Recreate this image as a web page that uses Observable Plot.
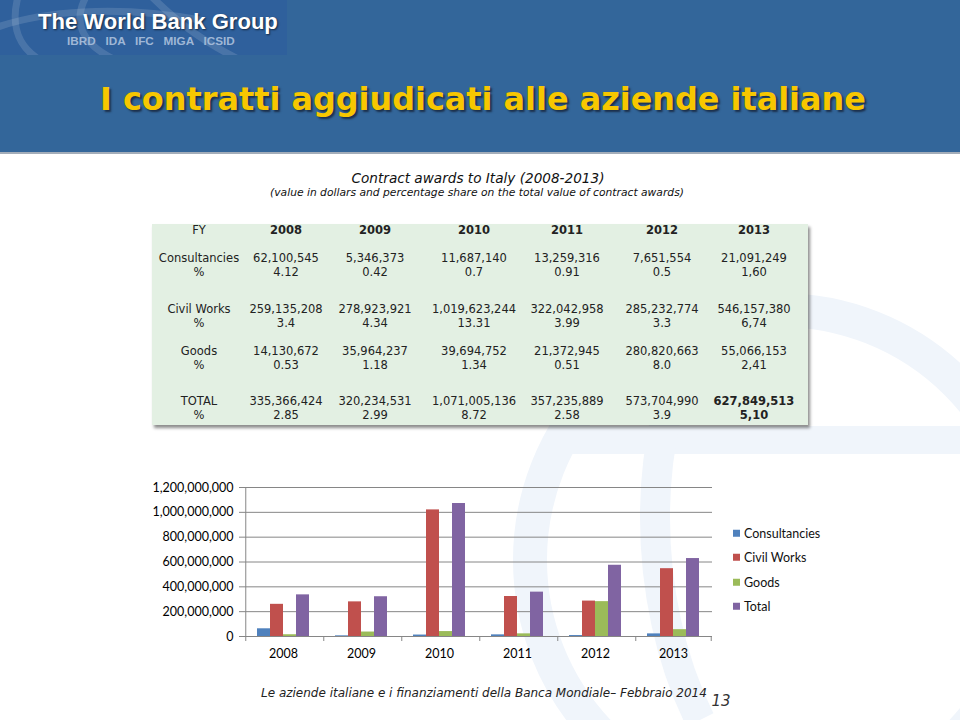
<!DOCTYPE html>
<html>
<head>
<meta charset="utf-8">
<script src="https://cdn.jsdelivr.net/npm/d3@7"></script>
<script src="https://cdn.jsdelivr.net/npm/@observablehq/plot@0.6"></script>
<style>
  html, body { margin: 0; padding: 0; }
  body { width: 960px; height: 720px; position: relative; overflow: hidden; background: #ffffff; font-family: "DejaVu Sans", Verdana, sans-serif; }
  .abs { position: absolute; white-space: pre; }
  #header { position: absolute; left: 0; top: 0; width: 960px; height: 152px; background: #33669a; }
  #hrule { position: absolute; left: 0; top: 152px; width: 960px; height: 2px; background: #a3adb9; }
  #logo { position: absolute; left: 0; top: 0; width: 287px; height: 55px; background: #2f609c; overflow: hidden; }
  #tablebox { position: absolute; left: 152px; top: 224px; width: 656px; height: 201px; background: #e3f0e3; box-shadow: 2px 3px 3px rgba(0,0,0,0.45); }
  .cell { position: absolute; white-space: nowrap; transform: translate(-50%, -50%); font-size: 11.5px; color: #222; line-height: 1; }
  #chart { position: absolute; left: 140px; top: 477px; }
  .leg { position: absolute; font-family: Lato, "Open Sans", sans-serif; font-size: 12.5px; color: #111; white-space: nowrap; transform: translateY(-50%); line-height: 1; }
  .sw { display: inline-block; width: 7px; height: 7px; margin-right: 4px; vertical-align: 1px; }
</style>
</head>
<body>
<svg class="abs" style="left:0;top:0" width="960" height="720">
  <g fill="none" stroke="#f0f5fb">
    <circle cx="780" cy="560" r="250" stroke-width="34"/>
    <path d="M560,440 L960,440" stroke-width="28"/>
    <path d="M700,330 C640,430 640,600 700,720" stroke-width="30"/>
  </g>
</svg>
<div id="header"></div>
<div id="hrule"></div>
<div id="logo">
  <svg width="287" height="55" style="position:absolute;left:0;top:0">
    <g fill="none" stroke="rgba(255,255,255,0.13)" stroke-width="7">
      <path d="M20,-10 C10,20 15,45 40,60"/>
      <path d="M90,-10 C70,20 80,45 120,62"/>
      <path d="M150,-5 C175,20 200,40 240,60"/>
      <path d="M-10,30 C40,10 120,5 200,20"/>
    </g>
  </svg>
</div>

<script>
// ---------------- data ----------------
const years = ["2008", "2009", "2010", "2011", "2012", "2013"];
const series = ["Consultancies", "Civil Works", "Goods", "Total"];

const consultancies    = [62100545, 5346373, 11687140, 13259316, 7651554, 21091249];
const consultanciesPct = ["4.12", "0.42", "0.7", "0.91", "0.5", "1,60"];
const civilWorks       = [259135208, 278923921, 1019623244, 322042958, 285232774, 546157380];
const civilWorksPct    = ["3.4", "4.34", "13.31", "3.99", "3.3", "6,74"];
const goods            = [14130672, 35964237, 39694752, 21372945, 280820663, 55066153];
const goodsPct         = ["0.53", "1.18", "1.34", "0.51", "8.0", "2,41"];
const total            = [335366424, 320234531, 1071005136, 357235889, 573704990, 627849513];
const totalPct         = ["2.85", "2.99", "8.72", "2.58", "3.9", "5,10"];

const yTicks = [0, 200000000, 400000000, 600000000, 800000000, 1000000000, 1200000000];

const slideTitle = "I contratti aggiudicati alle aziende italiane";
const tableTitle = "Contract awards to Italy (2008-2013)";
const tableSubtitle = "(value in dollars and percentage share on the total value of contract awards)";
const footerText = "Le aziende italiane e i finanziamenti della Banca Mondiale– Febbraio 2014";
const pageNumber = "13";

// ---------------- helpers ----------------
const body = document.body;
function textAt(str, opts) {
  const el = document.createElement("div");
  el.className = "abs";
  el.textContent = str;
  Object.assign(el.style, {
    fontFamily: opts.font || '"DejaVu Sans", Verdana, sans-serif',
    fontSize: (opts.size || 12) + "px",
    fontWeight: opts.weight || "normal",
    fontStyle: opts.style || "normal",
    color: opts.color || "#000",
    lineHeight: "1",
    textShadow: opts.shadow || "none"
  });
  body.appendChild(el);
  if (opts.fitWidth) {
    const w = el.getBoundingClientRect().width;
    el.style.fontSize = ((opts.size || 12) * opts.fitWidth / w) + "px";
  }
  const r = el.getBoundingClientRect();
  let left = opts.x;
  if (opts.anchor === "middle") left = opts.x - r.width / 2;
  if (opts.anchor === "end") left = opts.x - r.width;
  el.style.left = left + "px";
  el.style.top = (opts.y - r.height / 2) + "px";
  return el;
}

// ---------------- header ----------------
textAt("The World Bank Group", {x: 38, y: 22, size: 22, weight: "bold", font: '"Liberation Sans", Arial, sans-serif', color: "#ffffff", fitWidth: 240, shadow: "1px 1px 2px rgba(0,0,0,0.6)"});
textAt("IBRD   IDA   IFC   MIGA   ICSID", {x: 67, y: 41, size: 8.5, weight: "bold", font: '"Liberation Sans", Arial, sans-serif', color: "#9fb7d6", fitWidth: 168});
textAt(slideTitle, {x: 100, y: 100, size: 30, weight: "bold", color: "#f7c700", fitWidth: 766, shadow: "2px 2px 2px rgba(20,30,50,0.75)"});

// ---------------- table ----------------
textAt(tableTitle, {x: 478, y: 179, size: 13.6, style: "italic", color: "#111", fitWidth: 253, anchor: "middle"});
textAt(tableSubtitle, {x: 477, y: 193, size: 11, style: "italic", color: "#111", fitWidth: 414, anchor: "middle"});

const box = document.createElement("div");
box.id = "tablebox";
body.appendChild(box);

const fmt = d3.format(",");
const colX = [199, 286, 375, 474, 567, 662, 754];
const tableRows = [
  {label: "FY", values: years, y: 231, bold: true},
  {label: "Consultancies", values: consultancies.map(fmt), y: 259},
  {label: "%", values: consultanciesPct, y: 273},
  {label: "Civil Works", values: civilWorks.map(fmt), y: 310},
  {label: "%", values: civilWorksPct, y: 324},
  {label: "Goods", values: goods.map(fmt), y: 352},
  {label: "%", values: goodsPct, y: 366},
  {label: "TOTAL", values: total.map(fmt), y: 402, boldLast: true},
  {label: "%", values: totalPct, y: 416, boldLast: true}
];
for (const row of tableRows) {
  const cells = [row.label, ...row.values];
  cells.forEach((t, i) => {
    const c = document.createElement("div");
    c.className = "cell";
    c.textContent = t;
    c.style.left = colX[i] + "px";
    c.style.top = row.y + "px";
    if ((row.bold && i > 0) || (row.boldLast && i === cells.length - 1)) c.style.fontWeight = "bold";
    body.appendChild(c);
  });
}

// ---------------- chart ----------------
const valuesBySeries = [consultancies, civilWorks, goods, total];
const colors = ["#4f81bd", "#c0504d", "#9bbb59", "#8064a2"];
const rows = years.flatMap((yr, i) => series.map((s, j) => ({year: yr, series: s, value: valuesBySeries[j][i]})));

const W = 600, H = 189, ML = 102, MR = 27, MT = 10, MB = 30;
const facetW = (W - ML - MR) / years.length;
const padOuter = 0.8;
const step = facetW / (series.length + 2 * padOuter);
const edge = (0.5 + padOuter) * step;
const axisColor = "#868686";

const chart = Plot.plot({
  width: W,
  height: H,
  marginLeft: ML,
  marginRight: MR,
  marginTop: MT,
  marginBottom: MB,
  style: {fontFamily: 'Lato, "Open Sans", sans-serif', fontSize: "12.5px", color: "#000", background: "transparent", overflow: "visible"},
  fx: {domain: years, padding: 0, label: null},
  x: {domain: series, paddingInner: 0, paddingOuter: padOuter, axis: null},
  y: {domain: [0, 1200000000], label: null},
  color: {domain: series, range: colors},
  marks: [
    Plot.gridY(yTicks, {stroke: axisColor, strokeOpacity: 1}),
    Plot.barY(rows, {fx: "year", x: "series", y: "value", fill: "series"}),
    Plot.ruleY([0], {stroke: axisColor}),
    // left value axis line
    Plot.ruleX([years[0]], {fx: d => d, x: () => series[0], y1: 0, y2: 1200000000, dx: -edge, stroke: axisColor}),
    // category boundary tick marks
    Plot.ruleX(years, {fx: d => d, x: () => series[0], y1: 0, y2: 0, dx: -edge, insetTop: 5, stroke: axisColor}),
    Plot.ruleX([years[years.length - 1]], {fx: d => d, x: () => series[series.length - 1], y1: 0, y2: 0, dx: edge, insetTop: 5, stroke: axisColor}),
    Plot.axisY(yTicks, {tickSize: 5, tickPadding: 6, tickFormat: d3.format(","), stroke: axisColor, fill: "#000", label: null}),
    Plot.axisFx({anchor: "bottom", tickSize: 0, tickPadding: 13, label: null, fill: "#000"})
  ]
});
const holder = document.createElement("div");
holder.id = "chart";
holder.appendChild(chart);
body.appendChild(holder);

// legend
const legY = [534, 558, 583, 607];
series.forEach((s, j) => {
  const d = document.createElement("div");
  d.className = "leg";
  d.style.left = "733px";
  d.style.top = legY[j] + "px";
  d.innerHTML = `<span class="sw" style="background:${colors[j]}"></span>${s}`;
  body.appendChild(d);
});

// ---------------- footer ----------------
textAt(footerText, {x: 261, y: 693, size: 13, style: "italic", color: "#222", fitWidth: 446});
textAt(pageNumber, {x: 721, y: 701, size: 15, style: "italic", color: "#333", anchor: "middle"});
</script>
</body>
</html>
